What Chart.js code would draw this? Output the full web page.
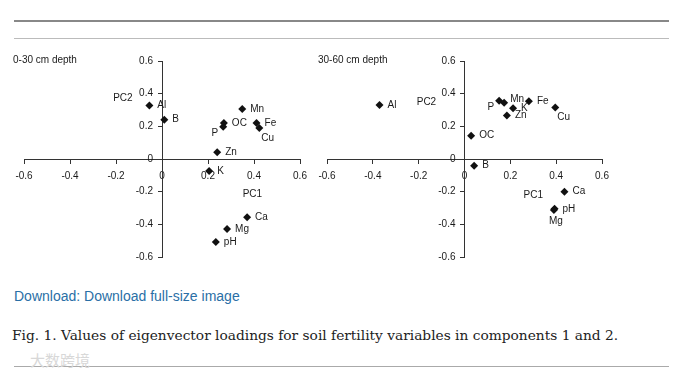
<!DOCTYPE html>
<html>
<head>
<meta charset="utf-8">
<script src="https://cdn.jsdelivr.net/npm/chart.js@4"></script>
<style>
  html, body { margin:0; padding:0; background:#fff; }
  body { width:689px; height:377px; position:relative; overflow:hidden; }
  .abs { position:absolute; }
  #topline { left:14px; top:20px; width:655px; height:2px; background:#888; }
  #line2 { left:14px; top:38px; width:655px; height:1px; background:#bbb; }
  #botline { left:14px; top:366px; width:655px; height:1px; background:#aaa; }
  #dl { left:14px; top:288px; font-family:"Liberation Sans", Arial, sans-serif; font-size:14px; color:#2a6fa6; white-space:nowrap; }
  #cap { left:12px; top:327px; font-family:"DejaVu Serif", serif; font-size:13.75px; color:#222; white-space:nowrap; }
  #wm { left:30px; top:349px; font-family:"Noto Sans CJK SC", sans-serif; font-size:15px; color:#d8d8d8; white-space:nowrap; }
  canvas { position:absolute; }
</style>
</head>
<body>
<div id="topline" class="abs"></div>
<div id="line2" class="abs"></div>
<div id="dl" class="abs">Download: Download full-size image</div>
<div id="cap" class="abs">Fig. 1. Values of eigenvector loadings for soil fertility variables in components 1 and 2.</div>
<div id="botline" class="abs"></div>
<div id="wm" class="abs">大数跨境</div>
<canvas id="c1" width="315" height="230" style="left:0px;top:40px;width:315px;height:230px"></canvas>
<canvas id="c2" width="320" height="230" style="left:305px;top:40px;width:320px;height:230px"></canvas>
<script>
// ---- data ----
const panelTitles = ["0-30 cm depth", "30-60 cm depth"];
const axisTicks = [-0.6, -0.4, -0.2, 0, 0.2, 0.4, 0.6];

const vars1 = ["Al", "B", "Mn", "OC", "P", "Fe", "Cu", "Zn", "K", "Ca", "Mg", "pH"];
const pc1_1 = [-0.055, 0.010, 0.349, 0.269, 0.266, 0.411, 0.423, 0.240, 0.205, 0.370, 0.283, 0.234];
const pc2_1 = [0.327, 0.241, 0.306, 0.220, 0.198, 0.220, 0.190, 0.041, -0.073, -0.357, -0.429, -0.508];
const place1 = ["r", "r", "r", "r", "bl", "r", "br", "r", "r", "r", "r", "r"];

const vars2 = ["Al", "P", "Mn", "Fe", "K", "Zn", "Cu", "OC", "B", "Ca", "pH", "Mg"];
const pc1_2 = [-0.371, 0.151, 0.173, 0.281, 0.212, 0.185, 0.396, 0.029, 0.042, 0.436, 0.393, 0.390];
const pc2_2 = [0.331, 0.357, 0.345, 0.353, 0.310, 0.267, 0.316, 0.143, -0.041, -0.200, -0.305, -0.312];
const place2 = ["r", "bl", "ur", "r", "r", "r", "br", "r", "r", "r", "r", "b"];

// axis-name label anchors (data coordinates)
const pc2Label1 = {x: -0.170, y: 0.373};
const pc1Label1 = {x: 0.393, y: -0.214};
const pc2Label2 = {x: -0.166, y: 0.349};
const pc1Label2 = {x: 0.300, y: -0.220};

// ---- drawing ----
const FONT = '"Liberation Sans Narrow", "Liberation Sans", Arial, sans-serif';
const TXT = '#1a1a1a';

function fmt(v) {
  const r = Math.round(v * 10) / 10;
  return r === 0 ? '0' : String(r);
}

const offsets = {
  r:  {dx: 8, dy: 0, align: 'left'},
  ur: {dx: 6, dy: -3, align: 'left'},
  bl: {dx: -5, dy: 7, align: 'right'},
  br: {dx: 2, dy: 10, align: 'left'},
  b:  {dx: 2, dy: 11, align: 'center'}
};

function labelsPlugin(names, places, pc1Lbl, pc2Lbl, title, titleX) {
  return {
    id: 'lbls',
    afterDatasetsDraw(chart) {
      const ctx = chart.ctx;
      const meta = chart.getDatasetMeta(0);
      const xs = chart.scales.x, ys = chart.scales.y;
      ctx.save();
      ctx.font = '10px ' + FONT;
      ctx.fillStyle = TXT;
      ctx.textBaseline = 'middle';
      // y-axis tick labels, placed left of the centred axis
      ctx.textAlign = 'right';
      const axisX = xs.getPixelForValue(0);
      ys.ticks.forEach(t => {
        ctx.fillText(fmt(t.value), axisX - 9, ys.getPixelForValue(t.value));
      });
      meta.data.forEach((pt, i) => {
        const o = offsets[places[i]];
        ctx.textAlign = o.align;
        ctx.fillText(names[i], pt.x + o.dx, pt.y + o.dy);
      });
      ctx.textAlign = 'center';
      ctx.fillText('PC1', xs.getPixelForValue(pc1Lbl.x), ys.getPixelForValue(pc1Lbl.y));
      ctx.fillText('PC2', xs.getPixelForValue(pc2Lbl.x), ys.getPixelForValue(pc2Lbl.y));
      ctx.textAlign = 'left';
      ctx.fillText(title, titleX, 20);
      ctx.restore();
    }
  };
}

function makeChart(id, names, xs, ys, places, pc1Lbl, pc2Lbl, title, titleX, pad) {
  const pts = xs.map((x, i) => ({x: x, y: ys[i]}));
  const axisCommon = {
    type: 'linear', min: -0.6, max: 0.6,
    afterBuildTicks(scale) { scale.ticks = axisTicks.map(v => ({value: v})); },
    grid: {drawOnChartArea: false, drawTicks: true, tickLength: 4, color: '#333', lineWidth: 1},
    border: {display: true, color: '#333', width: 1}
  };
  return new Chart(document.getElementById(id), {
    type: 'scatter',
    data: {datasets: [{data: pts, pointStyle: 'rectRot', pointRadius: 4, pointHoverRadius: 4,
      backgroundColor: '#111', borderColor: '#111', borderWidth: 0}]},
    options: {
      responsive: false, animation: false,
      layout: {padding: pad},
      plugins: {legend: {display: false}, tooltip: {enabled: false}, title: {display: false}},
      scales: {
        x: Object.assign({}, axisCommon, {position: {y: 0},
          ticks: {callback: fmt, font: {size: 10, family: FONT}, color: TXT, padding: 7, maxRotation: 0, autoSkip: false}}),
        y: Object.assign({}, axisCommon, {position: {x: 0},
          ticks: {display: false, callback: fmt, font: {size: 10, family: FONT}, color: TXT, autoSkip: false}})
      }
    },
    plugins: [labelsPlugin(names, places, pc1Lbl, pc2Lbl, title, titleX)]
  });
}

makeChart('c1', vars1, pc1_1, pc2_1, place1, pc1Label1, pc2Label1, panelTitles[0], 13,
  {left: 24, right: 15, top: 21, bottom: 13});
makeChart('c2', vars2, pc1_2, pc2_2, place2, pc1Label2, pc2Label2, panelTitles[1], 13,
  {left: 22, right: 23, top: 21, bottom: 13});
</script>
</body>
</html>
